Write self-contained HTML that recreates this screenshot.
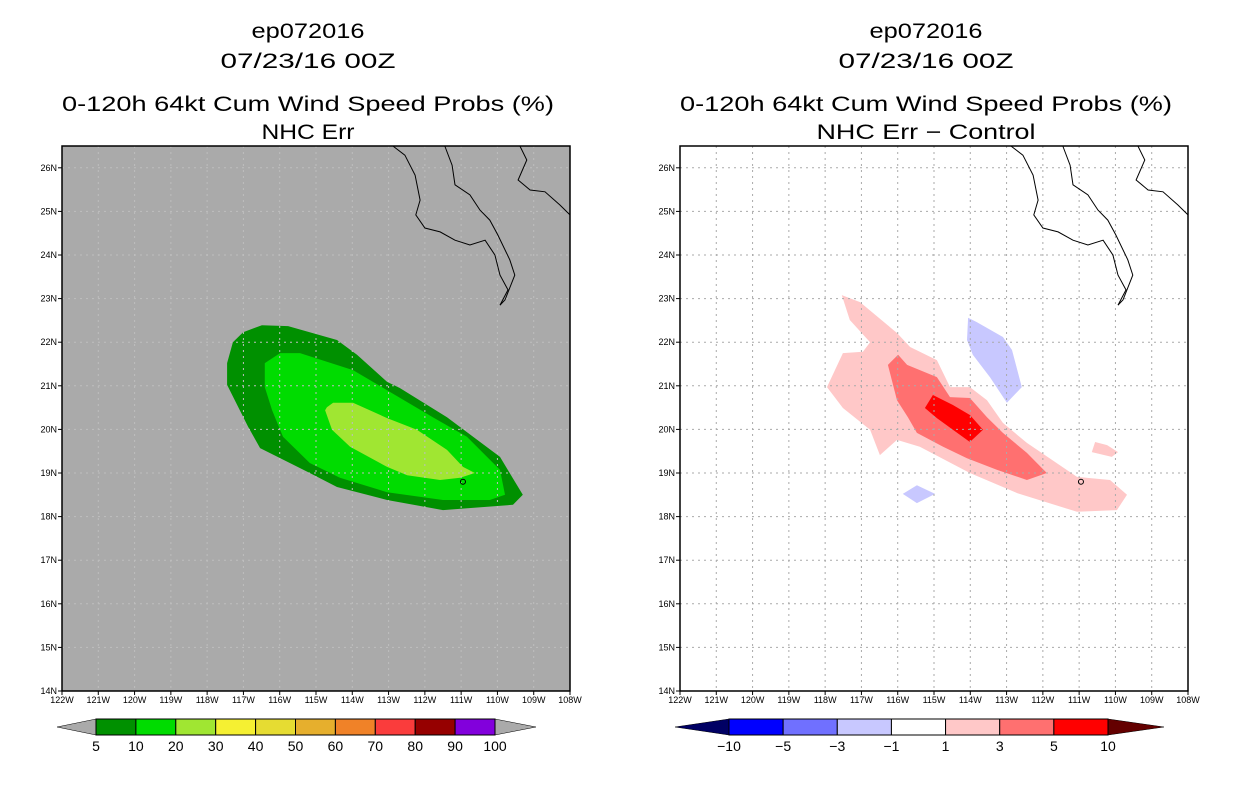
<!DOCTYPE html>
<html><head><meta charset="utf-8"><style>
body{margin:0;background:#fff;width:1236px;height:800px;overflow:hidden}
svg text{font-family:"Liberation Sans",sans-serif}
</style></head><body>
<svg id="s" width="1236" height="800" xmlns="http://www.w3.org/2000/svg"></svg>
<script>
// ---- data ----
const latTicks=[14,15,16,17,18,19,20,21,22,23,24,25,26];
const lonTicks=[122,121,120,119,118,117,116,115,114,113,112,111,110,109,108];
const probLevels=['5','10','20','30','40','50','60','70','80','90','100'];
const probColors=['#009000','#00dc00','#a0e632','#f5f032','#e6dc32','#e6af2d','#f08228','#fa3c3c','#960000','#8200dc'];
const diffLevels=['-10','-5','-3','-1','1','3','5','10'];
const diffColors=['#0000ff','#7070ff','#c8c8ff','#ffffff','#ffc8c8','#ff7070','#ff0000'];
const prob5=[[-116.49,22.39],[-115.77,22.37],[-114.42,22.05],[-113.87,21.71],[-113.04,21.09],[-112.69,20.95],[-111.39,20.28],[-109.93,19.37],[-109.30,18.50],[-109.57,18.27],[-111.50,18.15],[-113.04,18.38],[-114.42,18.68],[-115.17,19.00],[-116.54,19.57],[-116.87,20.06],[-117.45,21.02],[-117.45,21.52],[-117.29,22.00],[-117.01,22.23]];
const prob10=[[-115.99,21.75],[-115.44,21.75],[-113.98,21.36],[-113.04,20.90],[-111.78,20.28],[-110.84,19.83],[-109.93,19.07],[-109.79,18.50],[-110.21,18.38],[-111.50,18.38],[-113.04,18.56],[-114.34,18.89],[-115.17,19.23],[-115.91,19.83],[-116.21,20.44],[-116.41,20.97],[-116.41,21.52]];
const prob20=[[-114.70,20.51],[-114.53,20.61],[-113.98,20.61],[-113.04,20.26],[-112.22,19.99],[-111.39,19.53],[-110.95,19.14],[-110.62,19.00],[-111.03,18.89],[-111.58,18.84],[-112.49,18.95],[-113.04,19.14],[-114.06,19.60],[-114.56,19.99],[-114.75,20.44]];
const diffPos1=[[-117.54,23.08],[-117.04,22.92],[-116.02,22.21],[-115.66,21.89],[-114.92,21.59],[-114.56,20.97],[-114.01,20.97],[-113.54,20.67],[-113.10,20.15],[-112.44,19.69],[-111.06,18.91],[-110.15,18.84],[-109.68,18.50],[-109.96,18.15],[-111.06,18.11],[-112.71,18.54],[-114.01,19.00],[-115.39,19.60],[-116.02,19.76],[-116.49,19.41],[-116.76,19.99],[-117.51,20.49],[-117.95,20.97],[-117.51,21.75],[-116.96,21.78],[-116.76,22.00],[-117.32,22.51]];
const diffPos1b=[[-110.56,19.71],[-110.23,19.64],[-109.93,19.48],[-110.10,19.37],[-110.65,19.48]];
const diffPos3=[[-116.27,21.48],[-115.99,21.71],[-115.74,21.48],[-114.92,21.20],[-114.56,20.74],[-114.01,20.72],[-113.54,20.28],[-113.10,19.92],[-112.44,19.46],[-111.89,19.00],[-112.44,18.84],[-113.26,19.07],[-114.09,19.34],[-114.75,19.60],[-115.47,19.92],[-115.72,20.28],[-116.02,20.67]];
const diffPos5=[[-115.25,20.49],[-115.03,20.79],[-114.48,20.56],[-114.01,20.33],[-113.65,19.99],[-114.01,19.71],[-114.48,19.99],[-114.92,20.26]];
const diffNegA=[[-114.06,22.56],[-113.82,22.46],[-113.10,22.12],[-112.85,21.82],[-112.58,20.97],[-112.99,20.61],[-113.46,21.20],[-113.93,21.71],[-114.09,22.05]];
const diffNegB=[[-115.86,18.52],[-115.47,18.72],[-114.97,18.52],[-115.47,18.31]];
const coastW=[[-112.88,26.5],[-112.55,26.29],[-112.27,25.83],[-112.13,25.26],[-112.25,24.92],[-112.0,24.62],[-111.58,24.53],[-111.17,24.34],[-110.76,24.23],[-110.34,24.34],[-110.07,24.0],[-109.93,23.54],[-109.71,23.2],[-109.93,22.85]];
const coastE=[[-111.45,26.5],[-111.25,26.06],[-111.17,25.61],[-110.76,25.38],[-110.48,25.03],[-110.21,24.8],[-109.99,24.46],[-109.66,23.89],[-109.52,23.54],[-109.79,22.97],[-109.93,22.85]];
const coastM=[[-109.38,26.5],[-109.19,26.18],[-109.43,25.72],[-109.10,25.49],[-108.69,25.45],[-108.28,25.15],[-108.0,24.92]];

const NS='http://www.w3.org/2000/svg';
const svg=document.getElementById('s');
function mk(t,a,p){const e=document.createElementNS(NS,t);for(const k in a)e.setAttribute(k,a[k]);(p||svg).appendChild(e);return e;}
const W=508,H=545,TOP=146;
function xs(x0){return lon=>x0+(122+lon)/14*W;}
function ys(lat){return TOP+(26.5-lat)/12.5*H;}
function pts(arr,X){return arr.map(p=>X(p[0]).toFixed(1)+','+ys(p[1]).toFixed(1)).join(' ');}

function title(cx,lines,widths){
  const ysP=[38,68,111,139];
  lines.forEach((t,i)=>{const e=mk('text',{x:cx,y:ysP[i],'text-anchor':'middle','font-size':21,fill:'#000',textLength:widths[i],lengthAdjust:'spacingAndGlyphs'});e.textContent=t;
  
  });
}

function panel(x0,bg,gridCol,polys,name){
  const X=xs(x0);
  const g=mk('g',{});
  
  
  mk('rect',{x:x0,y:TOP,width:W,height:H,fill:bg},g);
  polys.forEach(([arr,col,nm])=>{const p=mk('polygon',{points:pts(arr,X),fill:col},g);
    
    });
  lonTicks.forEach(l=>{const x=X(-l);mk('line',{x1:x,y1:TOP,x2:x,y2:TOP+H,stroke:gridCol,'stroke-width':1,'stroke-dasharray':'2,4'},g);});
  latTicks.forEach(l=>{const y=ys(l);mk('line',{x1:x0,y1:y,x2:x0+W,y2:y,stroke:gridCol,'stroke-width':1,'stroke-dasharray':'2,4'},g);});
  [coastW,coastE,coastM].forEach(c=>{const p=mk('polyline',{points:pts(c,X),fill:'none',stroke:'#000','stroke-width':1},g);
    
    });
  mk('circle',{cx:X(-110.95),cy:ys(18.8),r:2.5,fill:'none',stroke:'#000','stroke-width':1},g);
  mk('rect',{x:x0,y:TOP,width:W,height:H,fill:'none',stroke:'#000','stroke-width':1.5},g);
  latTicks.forEach(l=>{const y=ys(l);mk('line',{x1:x0-4,y1:y,x2:x0,y2:y,stroke:'#000'},g);
    const t=mk('text',{x:x0-5,y:y+3,'text-anchor':'end','font-size':9},g);t.textContent=l+'N';
    
    });
  lonTicks.forEach(l=>{const x=X(-l);mk('line',{x1:x,y1:TOP+H,x2:x,y2:TOP+H+4,stroke:'#000'},g);
    const t=mk('text',{x:x,y:TOP+H+12,'text-anchor':'middle','font-size':9},g);t.textContent=l+'W';
    
    });
}

function colorbar(x0,x1,tl,tr,cols,labels,lc,rc,name){
  const g=mk('g',{});
  
  
  const y0=719,y1=735,bw=(x1-x0)/cols.length;
  mk('polygon',{points:`${tl},727 ${x0},${y0} ${x0},${y1}`,fill:lc,stroke:'#000','stroke-width':0.5},g);
  mk('polygon',{points:`${tr},727 ${x1},${y0} ${x1},${y1}`,fill:rc,stroke:'#000','stroke-width':0.5},g);
  cols.forEach((c,i)=>{const r=mk('rect',{x:x0+i*bw,y:y0,width:bw,height:y1-y0,fill:c,stroke:'#000','stroke-width':1},g);
    
    });
  labels.forEach((l,i)=>{const t=mk('text',{x:x0+i*bw,y:751,'text-anchor':'middle','font-size':14},g);t.textContent=l.replace('-','\u2212');
    
    });
}

title(308,['ep072016','07/23/16 00Z','0-120h 64kt Cum Wind Speed Probs (%)','NHC Err'],[113,175,492,93]);
title(926,['ep072016','07/23/16 00Z','0-120h 64kt Cum Wind Speed Probs (%)','NHC Err \u2212 Control'],[113,175,492,219]);
panel(62,'#aaaaaa','#bebebe',[[prob5,probColors[0],'prob-5'],[prob10,probColors[1],'prob-10'],[prob20,probColors[2],'prob-20']],'left-map');
panel(680,'#ffffff','#aaaaaa',[[diffPos1,diffColors[4],'diff-1'],[diffPos1b,diffColors[4],'diff-1b'],[diffPos3,diffColors[5],'diff-3'],[diffPos5,diffColors[6],'diff-5'],[diffNegA,diffColors[2],'diff-neg-a'],[diffNegB,diffColors[2],'diff-neg-b']],'right-map');
colorbar(96,495,57,536,probColors,probLevels,'#aaaaaa','#aaaaaa','prob-colorbar');
colorbar(729,1108,675,1164,diffColors,diffLevels,'#000064','#640000','diff-colorbar');
</script>
</body></html>
